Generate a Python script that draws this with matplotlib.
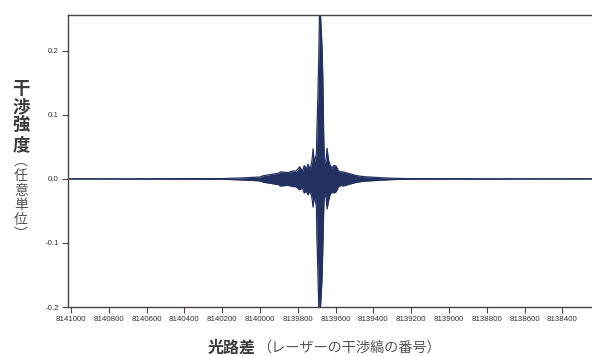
import matplotlib.pyplot as plt
import numpy as np

plt.close('all')

# Optical path difference (laser fringe count) and interferogram envelope
opd = [8141016, 8140200, 8140100, 8140000, 8139983, 8139900, 8139893, 8139850,
       8139825, 8139810, 8139790, 8139775, 8139766, 8139755, 8139745, 8139735,
       8139725, 8139719, 8139713, 8139706, 8139701, 8139699, 8139694, 8139689,
       8139685, 8139680, 8139676, 8139671, 8139667, 8139663, 8139659, 8139650,
       8139645, 8139638, 8139630, 8139620, 8139610, 8139597, 8139585, 8139570,
       8139560, 8139500, 8139486, 8139450, 8139364, 8139300, 8139200, 8138243]
upper = [0.0, 0.0005, 0.0015, 0.003, 0.005, 0.009, 0.011, 0.010,
         0.0125, 0.012, 0.019, 0.012, 0.021, 0.016, 0.023, 0.014,
         0.028, 0.047, 0.024, 0.034, 0.040, 0.073, 0.124, 0.190,
         0.260, 0.256, 0.233, 0.200, 0.150, 0.070, 0.025, 0.030,
         0.048, 0.030, 0.022, 0.017, 0.021, 0.020, 0.012, 0.011,
         0.011, 0.006, 0.005, 0.0035, 0.002, 0.001, 0.0004, 0.0]
lower = [0.0, -0.0005, -0.0015, -0.003, -0.005, -0.009, -0.011, -0.010,
         -0.012, -0.012, -0.017, -0.014, -0.022, -0.019, -0.025, -0.017,
         -0.030, -0.044, -0.027, -0.035, -0.045, -0.090, -0.140, -0.200,
         -0.210, -0.200, -0.180, -0.150, -0.100, -0.050, -0.020, -0.030,
         -0.047, -0.035, -0.025, -0.020, -0.022, -0.020, -0.012, -0.010,
         -0.011, -0.006, -0.005, -0.0035, -0.002, -0.001, -0.0004, 0.0]

xticks = list(range(8141000, 8138399, -200))
yticks = [-0.2, -0.1, 0.0, 0.1, 0.2]

line_color = '#22315f'
spine_color = '#4a4444'

fig = plt.figure(figsize=(5.92, 3.56), dpi=100)
ax = fig.add_axes([68 / 592, 1 - 307 / 356, 1 - 68 / 592, 292 / 356])

ax.fill_between(opd, lower, upper, color=line_color, linewidth=0)
ax.plot(opd, upper, color=line_color, lw=0.9)
ax.plot(opd, lower, color=line_color, lw=0.9)

ax.set_xlim(8141016, 8138243)
ax.set_ylim(-0.2, 0.256)
ax.set_xticks(xticks)
ax.set_xticklabels([str(t) for t in xticks])
ax.set_yticks(yticks)
ax.set_yticklabels(['%.1f' % t for t in yticks])

for side in ['left', 'bottom', 'top']:
    ax.spines[side].set_color(spine_color)
    ax.spines[side].set_linewidth(1.0)
ax.spines['right'].set_visible(False)

ax.tick_params(axis='both', direction='out', length=4, width=0.8,
               color=spine_color, labelcolor='#333333', labelsize=5.7, pad=2.5)
for lab in ax.get_xticklabels() + ax.get_yticklabels():
    lab.set_family('Liberation Sans')

cjk = ['Noto Sans CJK JP', 'DejaVu Sans']

# Vertical y label
fig.text(21 / 592, 1 - 117 / 356, '\n'.join('干渉強度'), family=cjk,
         fontsize=12.5, fontweight='bold', color='#3a3a3a',
         ha='center', va='center', linespacing=1.05)
fig.text(21 / 592, 1 - 198 / 356, '\n'.join('︵任意単位︶'), family=cjk,
         fontsize=10, color='#555555', ha='center', va='center',
         linespacing=1.05)

# x label in two parts
fig.text(256 / 592, 1 - 348 / 356, '光路差', family=cjk, fontsize=11.5,
         fontweight='bold', color='#3a3a3a', ha='right', va='center')
fig.text(257 / 592, 1 - 348 / 356, '（レーザーの干渉縞の番号）', family=cjk,
         fontsize=10.2, color='#555555', ha='left', va='center')

fig.savefig('out.png', dpi=100)
